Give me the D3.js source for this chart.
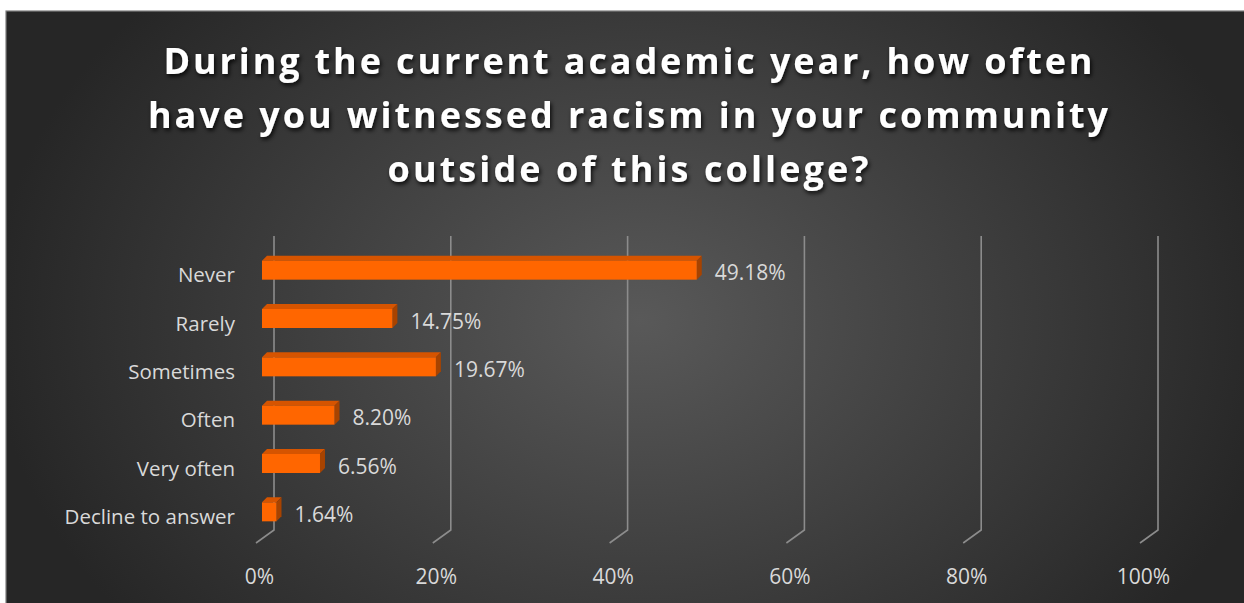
<!DOCTYPE html>
<html>
<head>
<meta charset="utf-8">
<script src="https://cdn.jsdelivr.net/npm/d3@7"></script>
<style>
  body { margin: 0; background: #ffffff; }
  svg { display: block; }
</style>
</head>
<body>
<svg id="svg1" width="1244" height="603"></svg>
<script>
var categories = ["Never", "Rarely", "Sometimes", "Often", "Very often", "Decline to answer"];
var values = [49.18, 14.75, 19.67, 8.20, 6.56, 1.64];
var valueLabels = ["49.18%", "14.75%", "19.67%", "8.20%", "6.56%", "1.64%"];
var ticks = [0, 20, 40, 60, 80, 100];
var titleLines = [
  "During the current academic year, how often",
  "have you witnessed racism in your community",
  "outside of this college?"
];

var params = {
  "chart": { "x": 6, "y": 11, "width": 1244, "height": 603 },
  "plot": { "x": 262, "y": 246, "width": 884, "height": 290 },
  "depth": { "dx": 18, "dy": -13 },
  "bar": { "dx": 5, "dy": -5 }
};

var svg = d3.select("#svg1");
var defs = svg.append("defs");

var grad = defs.append("radialGradient")
  .attr("id", "bg")
  .attr("gradientUnits", "userSpaceOnUse")
  .attr("cx", 640).attr("cy", 320).attr("r", 650)
  .attr("gradientTransform", "translate(640,320) scale(1,0.75) translate(-640,-320)");
grad.append("stop").attr("offset", "0%").attr("stop-color", "#595959");
grad.append("stop").attr("offset", "100%").attr("stop-color", "#262626");

var shadow = defs.append("filter").attr("id", "shadow")
  .attr("x", "-10%").attr("y", "-30%").attr("width", "120%").attr("height", "160%");
shadow.append("feDropShadow")
  .attr("dx", 1.5).attr("dy", 2.5).attr("stdDeviation", 2)
  .attr("flood-color", "#000").attr("flood-opacity", 0.85);

// background
svg.append("rect")
  .attr("x", params.chart.x).attr("y", params.chart.y)
  .attr("width", params.chart.width).attr("height", params.chart.height)
  .attr("fill", "url(#bg)")
  .attr("stroke", "#7f7f7f").attr("stroke-width", 1.2);

// title
var title = svg.append("g").attr("filter", "url(#shadow)");
var titleWidths = [929, 960, 481];
titleLines.forEach(function(line, i) {
  title.append("text")
    .attr("x", 628)
    .attr("y", 74 + i * 54)
    .attr("text-anchor", "middle")
    .attr("textLength", titleWidths[i])
    .attr("lengthAdjust", "spacing")
    .style("font-family", "'Open Sans', sans-serif")
    .style("font-weight", "bold")
    .style("font-size", "36px")
    .style("fill", "#ffffff")
    .text(line);
});

var scale = {
  "x": d3.scaleLinear().domain([0, 100]).range([params.plot.x, params.plot.x + params.plot.width]),
  "y": d3.scaleBand().domain(categories)
    .range([params.plot.y, params.plot.y + params.plot.height])
    .paddingInner(0.6).paddingOuter(0.3)
};

// gridlines (3D wall + floor edge)
var gridTop = 236, gridBottom = 530;
var grid = svg.append("g").attr("class", "grid");
grid.selectAll("path")
  .data(ticks)
  .enter()
  .append("path")
  .attr("d", function(d) {
    var xb = scale.x(d) + 12;
    return "M" + xb + "," + gridTop + "L" + xb + "," + gridBottom +
      "L" + (xb - params.depth.dx) + "," + (gridBottom - params.depth.dy);
  })
  .attr("fill", "none")
  .attr("stroke", "#8c8c8c")
  .attr("stroke-width", 1.6);

// x tick labels
var axisG = svg.append("g")
  .attr("transform", "translate(-3," + 584 + ")")
  .call(d3.axisBottom(scale.x).tickValues(ticks).tickSize(0).tickPadding(0)
    .tickFormat(function(d) { return d + "%"; }));
axisG.select(".domain").remove();
axisG.selectAll("text")
  .attr("dy", 0)
  .style("font-family", "'Open Sans', sans-serif")
  .style("font-size", "21px")
  .style("fill", "#d9d9d9");

// bars
var bw = 19;
var bars = svg.append("g").attr("class", "bars")
  .selectAll("g")
  .data(values)
  .enter()
  .append("g")
  .attr("transform", function(d, i) {
    var cy = scale.y(categories[i]) + scale.y.bandwidth() / 2;
    return "translate(0," + (cy - bw / 2) + ")";
  });

var x0 = scale.x(0);
var bdx = params.bar.dx, bdy = params.bar.dy;

bars.append("path")
  .attr("d", function(d) {
    var x1 = scale.x(d);
    return "M" + x0 + ",0L" + (x0 + bdx) + "," + bdy + "L" + (x1 + bdx) + "," + bdy + "L" + x1 + ",0Z";
  })
  .attr("fill", "#d65400");

bars.append("path")
  .attr("d", function(d) {
    var x1 = scale.x(d);
    return "M" + x1 + ",0L" + (x1 + bdx) + "," + bdy + "L" + (x1 + bdx) + "," + (bw + bdy) + "L" + x1 + "," + bw + "Z";
  })
  .attr("fill", "#a84300");

bars.append("rect")
  .attr("x", x0)
  .attr("y", 0)
  .attr("width", function(d) { return scale.x(d) - x0; })
  .attr("height", bw)
  .attr("fill", "#ff6600");

bars.append("text")
  .attr("x", function(d) { return scale.x(d) + bdx + 13; })
  .attr("y", bw / 2 + 10)
  .style("font-family", "'Open Sans', sans-serif")
  .style("font-size", "21px")
  .style("fill", "#d9d9d9")
  .text(function(d, i) { return valueLabels[i]; });

// category labels
svg.append("g").selectAll("text")
  .data(categories)
  .enter()
  .append("text")
  .attr("x", 235)
  .attr("y", function(d) { return scale.y(d) + scale.y.bandwidth() / 2 + 12; })
  .attr("text-anchor", "end")
  .style("font-family", "'Open Sans', sans-serif")
  .style("font-size", "20.5px")
  .style("fill", "#d9d9d9")
  .text(function(d) { return d; });
</script>
</body>
</html>
